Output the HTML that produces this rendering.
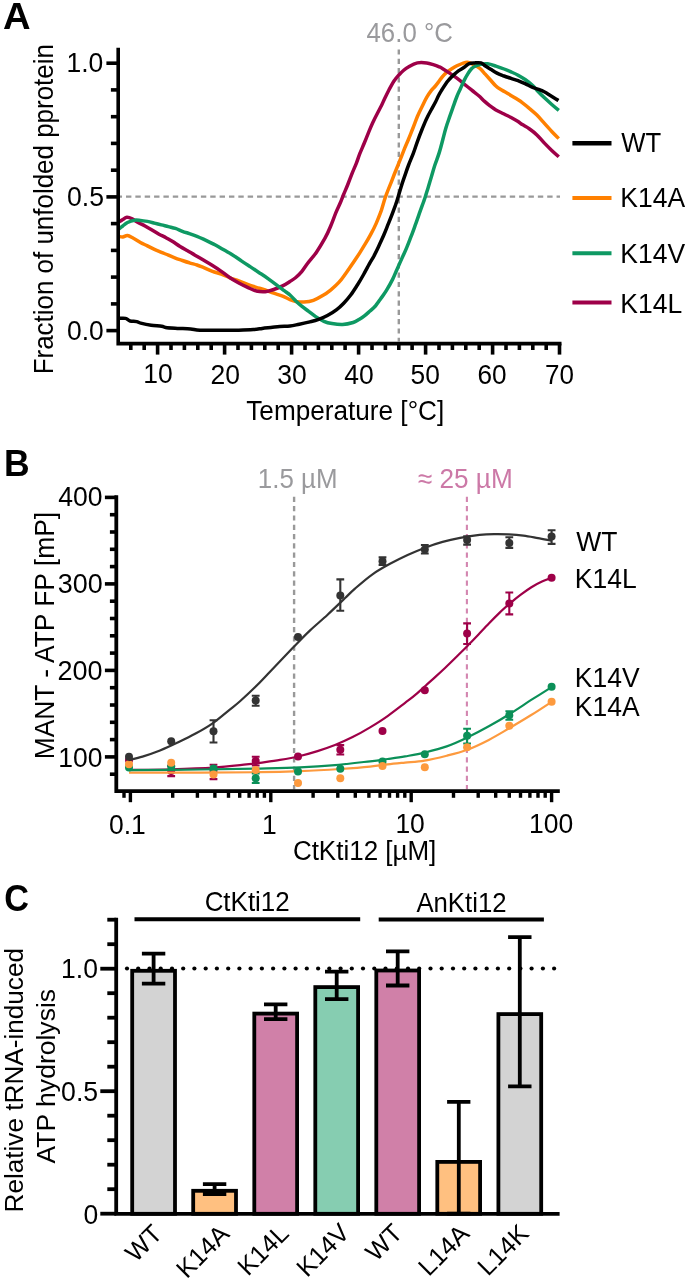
<!DOCTYPE html><html><head><meta charset="utf-8"><style>html,body{margin:0;padding:0;background:#fff;}svg{display:block;will-change:transform;}text{font-family:"Liberation Sans", sans-serif;}</style></head><body>
<svg width="685" height="1286" viewBox="0 0 685 1286">
<rect width="685" height="1286" fill="#fff"/>
<text id="tA" transform="translate(2.99,29.30) scale(1.0336,0.9917)" font-size="37" font-weight="bold">A</text>
<line x1="398.8" y1="49.4" x2="398.8" y2="341.6" stroke="#999" stroke-width="2.4" stroke-dasharray="5.2,4.1"/>
<line x1="116.64" y1="196.6" x2="560" y2="196.6" stroke="#999" stroke-width="2.3" stroke-dasharray="5.4,3.96"/>
<text id="t46" transform="translate(366.53,42.00) scale(0.9735,1.0400)" font-size="26.5" fill="#9a9a9d">46.0 °C</text>
<path d="M118.8,236.5 C119.5,236.6 121.3,237.2 122.8,237.1 C124.2,236.9 125.7,235.4 127.5,235.6 C129.3,235.8 131.2,237.2 133.4,238.3 C135.6,239.4 138.1,241.1 140.4,242.4 C142.7,243.7 145.1,244.7 147.4,245.9 C149.7,247.1 152.1,248.3 154.4,249.4 C156.7,250.5 159.1,251.3 161.4,252.3 C163.7,253.3 166.1,254.2 168.4,255.2 C170.7,256.2 173.1,257.2 175.4,258.1 C177.7,259.0 180.1,259.7 182.4,260.5 C184.7,261.3 187.0,262.1 189.4,262.8 C191.8,263.6 194.6,264.2 197.0,265.0 C199.4,265.8 201.2,266.6 203.8,267.6 C206.4,268.7 209.6,270.2 212.5,271.3 C215.4,272.4 218.4,273.1 221.3,274.2 C224.2,275.3 227.1,276.7 230.0,277.8 C232.9,278.9 235.9,279.7 238.8,280.8 C241.7,281.9 244.7,283.3 247.6,284.4 C250.5,285.5 253.4,286.4 256.3,287.3 C259.2,288.2 262.2,289.0 265.1,290.0 C268.0,291.0 270.9,292.2 273.8,293.2 C276.7,294.2 279.9,295.0 282.6,296.1 C285.3,297.2 287.8,298.7 290.0,299.6 C292.2,300.5 293.5,301.1 295.8,301.5 C298.1,301.9 301.1,302.2 304.0,302.0 C306.9,301.8 310.3,301.4 313.4,300.3 C316.5,299.2 319.8,297.4 322.7,295.6 C325.6,293.9 328.2,292.0 330.9,289.8 C333.6,287.6 336.6,285.0 339.1,282.2 C341.6,279.4 343.6,276.4 346.1,273.0 C348.6,269.6 351.7,264.9 354.0,261.5 C356.3,258.1 357.9,255.7 359.9,252.6 C361.8,249.5 363.8,246.3 365.7,243.2 C367.6,240.1 369.2,237.2 371.0,233.9 C372.8,230.6 374.6,227.1 376.2,223.4 C377.8,219.7 379.5,215.5 380.9,211.7 C382.2,207.9 383.2,203.9 384.3,200.5 C385.4,197.1 386.4,194.5 387.5,191.5 C388.6,188.5 389.8,185.8 391.1,182.6 C392.4,179.3 393.7,175.7 395.2,172.0 C396.7,168.3 398.3,164.3 399.9,160.4 C401.4,156.5 403.1,152.3 404.5,148.7 C405.9,145.1 407.2,142.4 408.6,139.0 C410.0,135.6 411.3,132.2 412.8,128.5 C414.3,124.8 415.9,120.1 417.4,116.5 C418.9,112.9 420.4,109.9 422.0,106.7 C423.6,103.5 425.1,100.1 426.7,97.4 C428.3,94.7 430.0,92.2 431.4,90.4 C432.8,88.6 433.8,87.9 435.0,86.5 C436.2,85.1 437.4,83.5 438.6,81.9 C439.8,80.3 441.0,78.4 442.3,76.8 C443.6,75.2 445.1,73.7 446.7,72.4 C448.3,71.1 450.1,69.9 451.8,68.8 C453.5,67.7 455.1,66.7 456.9,65.8 C458.7,64.9 461.0,63.9 462.7,63.3 C464.4,62.7 465.6,62.2 467.1,62.2 C468.6,62.2 470.0,63.0 471.5,63.6 C473.0,64.2 474.4,64.9 475.9,65.8 C477.4,66.7 478.8,67.4 480.3,68.8 C481.8,70.2 483.4,72.1 485.0,73.9 C486.6,75.7 488.2,77.5 490.0,79.5 C491.8,81.5 493.9,84.2 495.9,86.0 C497.8,87.8 499.6,88.7 501.7,90.0 C503.8,91.3 506.4,92.7 508.7,94.1 C511.0,95.5 513.4,96.8 515.7,98.3 C518.0,99.8 520.2,101.1 522.5,102.8 C524.8,104.5 527.2,106.5 529.6,108.6 C532.0,110.6 534.5,112.7 536.9,115.1 C539.3,117.5 541.8,120.5 544.2,123.2 C546.6,125.9 549.1,128.6 551.5,131.2 C553.9,133.8 557.6,137.3 558.8,138.5" fill="none" stroke="#ff8000" stroke-width="3.5" stroke-linejoin="round"/>
<path d="M118.8,221.9 C119.5,221.5 121.4,220.4 122.8,219.6 C124.2,218.8 125.3,217.4 126.9,217.3 C128.5,217.2 130.3,217.9 132.2,218.8 C134.0,219.7 135.9,221.3 138.0,222.5 C140.1,223.7 142.7,224.7 145.0,226.0 C147.3,227.3 149.7,228.7 152.0,230.1 C154.3,231.5 156.7,232.9 159.0,234.2 C161.3,235.5 163.7,236.4 166.0,237.7 C168.3,239.0 170.8,240.3 173.1,241.8 C175.4,243.3 177.8,245.1 180.1,246.5 C182.4,247.9 184.6,249.1 187.1,250.5 C189.6,251.9 192.2,253.6 195.0,255.2 C197.8,256.8 200.9,258.6 203.8,260.3 C206.7,262.0 209.6,263.6 212.5,265.4 C215.4,267.2 218.4,269.2 221.3,271.3 C224.2,273.4 227.1,275.9 230.0,277.8 C232.9,279.8 235.9,281.4 238.8,283.0 C241.7,284.6 244.7,286.0 247.6,287.3 C250.5,288.6 253.4,290.3 256.3,291.0 C259.2,291.7 262.2,291.9 265.1,291.7 C268.0,291.4 270.9,290.5 273.8,289.5 C276.7,288.5 279.9,287.2 282.6,285.9 C285.3,284.6 287.8,282.9 290.0,281.5 C292.2,280.1 293.9,279.1 295.8,277.5 C297.8,275.9 299.8,274.0 301.7,271.7 C303.6,269.4 305.1,266.7 307.5,263.5 C309.9,260.3 313.4,256.6 316.3,252.4 C319.2,248.2 322.6,242.5 325.0,238.2 C327.4,233.9 328.7,230.8 330.5,226.5 C332.3,222.2 334.3,216.6 335.9,212.7 C337.5,208.8 338.8,206.3 340.1,203.3 C341.4,200.3 342.2,197.8 343.5,194.7 C344.8,191.6 346.4,188.1 347.8,184.5 C349.2,180.9 350.7,177.0 352.1,173.4 C353.5,169.8 355.1,166.4 356.4,163.1 C357.7,159.8 358.5,157.0 359.8,153.7 C361.1,150.4 362.7,146.9 364.1,143.5 C365.5,140.1 366.9,136.6 368.3,133.2 C369.7,129.8 371.0,126.3 372.6,122.9 C374.2,119.5 376.2,115.6 377.7,112.7 C379.2,109.8 380.3,107.9 381.5,105.5 C382.7,103.1 383.4,101.2 384.7,98.5 C386.0,95.8 387.8,92.1 389.3,89.2 C390.9,86.3 392.4,83.3 394.0,81.0 C395.6,78.7 397.1,77.0 398.7,75.2 C400.3,73.5 401.6,72.0 403.4,70.5 C405.1,69.0 406.9,67.7 409.2,66.4 C411.5,65.1 414.5,63.5 417.4,62.9 C420.3,62.3 423.9,62.6 426.7,62.9 C429.5,63.2 432.0,64.3 434.0,64.9 C436.0,65.5 437.2,66.0 438.6,66.6 C440.0,67.2 440.5,67.3 442.3,68.4 C444.1,69.5 447.2,71.5 449.6,73.1 C452.0,74.7 454.5,76.4 456.9,78.2 C459.3,80.0 461.8,82.1 464.2,84.1 C466.6,86.0 469.1,88.0 471.5,89.9 C473.9,91.9 476.6,93.9 478.8,95.8 C481.0,97.7 482.7,99.7 484.6,101.4 C486.5,103.1 488.1,104.4 490.0,105.8 C491.9,107.2 493.5,108.5 495.9,109.9 C498.2,111.3 501.6,112.7 504.1,114.0 C506.6,115.3 508.8,116.2 511.1,117.5 C513.4,118.8 516.2,120.4 518.1,121.6 C520.0,122.8 520.4,123.4 522.3,124.6 C524.2,125.8 527.2,127.3 529.6,129.0 C532.0,130.7 534.5,132.6 536.9,134.9 C539.3,137.2 541.8,140.4 544.2,142.9 C546.6,145.4 549.1,147.9 551.5,150.2 C553.9,152.5 557.6,155.7 558.8,156.8" fill="none" stroke="#9e0048" stroke-width="3.5" stroke-linejoin="round"/>
<path d="M118.2,229.5 C119.0,228.9 121.2,227.2 122.8,226.0 C124.3,224.8 125.5,223.5 127.5,222.5 C129.4,221.5 132.3,220.5 134.5,220.2 C136.7,219.8 138.2,220.2 140.4,220.4 C142.6,220.6 145.1,221.0 147.4,221.4 C149.7,221.8 152.1,222.5 154.4,223.1 C156.7,223.7 159.1,224.3 161.4,224.9 C163.7,225.5 166.1,226.0 168.4,226.6 C170.7,227.2 173.1,227.6 175.4,228.4 C177.7,229.2 180.1,230.4 182.4,231.3 C184.7,232.2 187.0,232.8 189.4,233.6 C191.8,234.4 194.2,235.2 197.0,236.3 C199.8,237.4 202.9,238.9 206.0,240.3 C209.1,241.8 212.4,243.4 215.4,245.0 C218.4,246.6 221.3,248.4 224.2,250.1 C227.1,251.8 230.1,253.4 233.0,255.2 C235.9,257.0 238.8,259.2 241.7,261.1 C244.6,263.1 247.6,265.0 250.5,266.9 C253.4,268.8 256.3,270.8 259.2,272.7 C262.1,274.6 265.1,276.5 268.0,278.6 C270.9,280.7 273.9,282.9 276.8,285.1 C279.7,287.3 283.3,290.1 285.5,291.7 C287.7,293.3 288.3,293.5 290.0,295.0 C291.7,296.5 293.9,299.0 295.8,300.9 C297.8,302.8 299.6,304.4 301.7,306.1 C303.8,307.9 306.4,309.6 308.7,311.4 C311.0,313.1 313.2,315.0 315.7,316.6 C318.2,318.2 321.2,320.1 323.9,321.3 C326.6,322.5 328.9,323.1 332.0,323.6 C335.1,324.1 339.1,324.7 342.6,324.5 C346.1,324.3 350.4,323.3 353.1,322.5 C355.8,321.7 357.1,320.6 359.0,319.5 C360.9,318.4 362.6,317.3 364.4,315.9 C366.2,314.5 368.2,312.6 370.0,311.0 C371.8,309.4 373.6,308.0 375.4,306.0 C377.1,304.0 378.7,301.6 380.5,299.0 C382.3,296.4 384.3,294.0 386.3,290.7 C388.3,287.4 390.8,283.0 392.6,279.4 C394.4,275.8 395.6,272.4 397.2,268.9 C398.8,265.4 400.3,261.9 401.9,258.4 C403.5,254.9 405.1,251.6 406.6,247.9 C408.2,244.2 409.6,240.3 411.2,236.2 C412.8,232.1 414.4,227.5 415.9,223.4 C417.4,219.3 418.5,216.0 420.0,211.7 C421.5,207.4 423.7,201.6 425.0,197.7 C426.3,193.8 426.8,191.9 427.9,188.4 C429.0,184.9 430.2,180.6 431.4,176.7 C432.6,172.8 433.6,168.9 434.9,165.0 C436.2,161.1 437.6,157.8 439.0,153.4 C440.4,149.0 441.9,143.1 443.0,138.8 C444.1,134.6 444.8,131.6 445.9,127.9 C447.0,124.2 448.4,120.4 449.6,116.9 C450.8,113.4 452.0,110.1 453.2,106.7 C454.4,103.3 455.7,99.5 456.9,96.5 C458.1,93.5 459.3,91.2 460.5,88.5 C461.7,85.8 463.0,82.8 464.2,80.4 C465.4,78.0 466.6,75.8 467.8,73.9 C469.0,72.0 470.4,70.0 471.5,68.8 C472.6,67.6 473.1,67.2 474.6,66.5 C476.1,65.8 478.5,64.8 480.7,64.3 C482.9,63.8 485.2,63.5 487.7,63.8 C490.2,64.1 493.2,65.2 495.9,66.1 C498.6,67.0 501.6,68.0 504.1,69.0 C506.6,70.0 508.8,70.9 511.1,71.9 C513.4,72.9 515.8,73.9 518.1,75.2 C520.4,76.5 522.8,77.9 525.1,79.5 C527.4,81.1 530.1,83.2 532.1,85.0 C534.1,86.8 534.9,88.1 536.9,90.2 C538.9,92.3 541.8,95.3 544.2,97.6 C546.6,99.9 549.1,102.1 551.5,104.2 C553.9,106.3 557.6,109.4 558.8,110.4" fill="none" stroke="#0e9963" stroke-width="3.5" stroke-linejoin="round"/>
<path d="M118.5,318.4 C119.7,318.4 123.6,318.0 125.5,318.4 C127.4,318.8 128.2,320.5 130.1,321.0 C132.0,321.5 134.9,321.2 136.7,321.6 C138.5,322.0 138.3,322.5 140.7,323.1 C143.1,323.7 147.7,324.7 151.2,325.2 C154.7,325.7 159.3,325.8 161.7,326.2 C164.1,326.6 163.0,327.0 165.6,327.4 C168.2,327.8 173.2,328.1 177.4,328.4 C181.6,328.6 186.8,328.6 190.6,328.9 C194.4,329.2 194.4,330.0 200.0,330.2 C205.6,330.4 217.7,330.3 224.2,330.3 C230.7,330.3 233.9,330.3 238.8,330.2 C243.7,330.1 249.5,329.9 253.4,329.6 C257.3,329.3 259.3,328.8 262.2,328.4 C265.1,328.0 268.0,327.8 270.9,327.5 C273.8,327.2 276.5,326.8 279.7,326.5 C282.9,326.2 286.7,326.4 290.0,326.0 C293.3,325.6 296.2,324.8 299.3,324.2 C302.4,323.6 305.6,322.9 308.7,322.1 C311.8,321.3 314.9,320.7 318.0,319.6 C321.1,318.5 324.3,317.2 327.4,315.5 C330.5,313.8 334.0,311.7 336.7,309.6 C339.4,307.6 341.4,305.6 343.7,303.2 C346.0,300.8 348.4,298.1 350.7,295.0 C353.0,291.9 355.5,287.9 357.7,284.5 C359.9,281.1 361.7,277.9 363.6,274.5 C365.5,271.1 367.5,267.3 369.2,264.2 C370.9,261.1 372.3,259.0 373.9,256.1 C375.4,253.2 376.9,250.2 378.5,246.7 C380.1,243.2 382.1,238.9 383.8,235.0 C385.5,231.1 386.9,227.3 388.5,223.4 C390.1,219.5 391.7,215.6 393.1,211.7 C394.6,207.8 395.9,204.1 397.2,200.0 C398.5,195.9 399.8,191.1 401.0,187.2 C402.2,183.3 403.2,180.4 404.5,176.7 C405.8,173.0 407.1,168.9 408.6,165.0 C410.1,161.1 411.8,157.3 413.3,153.4 C414.8,149.5 415.9,145.7 417.4,141.7 C418.8,137.7 420.4,133.4 422.0,129.5 C423.6,125.6 425.1,121.7 426.7,118.4 C428.3,115.1 429.9,112.2 431.4,109.5 C432.9,106.8 434.3,104.3 435.5,102.0 C436.7,99.7 437.5,97.6 438.6,95.5 C439.7,93.4 441.1,91.2 442.3,89.2 C443.5,87.2 444.8,85.1 446.0,83.4 C447.2,81.7 448.3,80.5 449.6,79.0 C450.9,77.5 452.5,75.9 454.0,74.6 C455.5,73.2 456.7,72.1 458.4,70.9 C460.1,69.7 462.4,68.5 464.2,67.3 C466.0,66.1 467.6,64.3 469.3,63.6 C471.0,62.9 472.4,63.0 474.4,62.9 C476.3,62.8 479.2,62.4 481.0,62.9 C482.8,63.4 483.7,64.9 485.4,66.0 C487.1,67.1 489.3,68.4 491.2,69.6 C493.1,70.8 494.9,72.0 497.0,73.1 C499.1,74.2 501.8,75.1 504.1,76.0 C506.5,76.9 508.8,77.6 511.1,78.4 C513.4,79.2 515.8,79.8 518.1,80.7 C520.4,81.6 522.8,82.5 525.1,83.6 C527.4,84.7 530.1,86.2 532.1,87.1 C534.1,88.0 534.9,88.0 536.9,88.8 C538.9,89.6 541.8,90.6 544.2,91.8 C546.6,93.0 549.1,94.8 551.5,96.2 C553.9,97.7 557.3,99.8 558.5,100.5" fill="none" stroke="#000000" stroke-width="3.5" stroke-linejoin="round"/>
<path d="M118.2,47.7 V343.6 H561.5" fill="none" stroke="#000" stroke-width="3.6" stroke-linejoin="miter"/>
<line x1="106.4" y1="330.6" x2="118.2" y2="330.6" stroke="#000" stroke-width="3.6"/>
<line x1="110.9" y1="303.9" x2="118.2" y2="303.9" stroke="#000" stroke-width="3.6"/>
<line x1="110.9" y1="277.1" x2="118.2" y2="277.1" stroke="#000" stroke-width="3.6"/>
<line x1="110.9" y1="250.4" x2="118.2" y2="250.4" stroke="#000" stroke-width="3.6"/>
<line x1="110.9" y1="223.6" x2="118.2" y2="223.6" stroke="#000" stroke-width="3.6"/>
<line x1="106.4" y1="196.9" x2="118.2" y2="196.9" stroke="#000" stroke-width="3.6"/>
<line x1="110.9" y1="170.2" x2="118.2" y2="170.2" stroke="#000" stroke-width="3.6"/>
<line x1="110.9" y1="143.4" x2="118.2" y2="143.4" stroke="#000" stroke-width="3.6"/>
<line x1="110.9" y1="116.7" x2="118.2" y2="116.7" stroke="#000" stroke-width="3.6"/>
<line x1="110.9" y1="89.9" x2="118.2" y2="89.9" stroke="#000" stroke-width="3.6"/>
<line x1="106.4" y1="63.2" x2="118.2" y2="63.2" stroke="#000" stroke-width="3.6"/>
<line x1="130.8" y1="343.6" x2="130.8" y2="350.0" stroke="#000" stroke-width="3.6"/>
<line x1="144.2" y1="343.6" x2="144.2" y2="350.0" stroke="#000" stroke-width="3.6"/>
<line x1="157.6" y1="343.6" x2="157.6" y2="354.6" stroke="#000" stroke-width="3.6"/>
<line x1="171.0" y1="343.6" x2="171.0" y2="350.0" stroke="#000" stroke-width="3.6"/>
<line x1="184.4" y1="343.6" x2="184.4" y2="350.0" stroke="#000" stroke-width="3.6"/>
<line x1="197.8" y1="343.6" x2="197.8" y2="350.0" stroke="#000" stroke-width="3.6"/>
<line x1="211.2" y1="343.6" x2="211.2" y2="350.0" stroke="#000" stroke-width="3.6"/>
<line x1="224.6" y1="343.6" x2="224.6" y2="354.6" stroke="#000" stroke-width="3.6"/>
<line x1="238.0" y1="343.6" x2="238.0" y2="350.0" stroke="#000" stroke-width="3.6"/>
<line x1="251.4" y1="343.6" x2="251.4" y2="350.0" stroke="#000" stroke-width="3.6"/>
<line x1="264.8" y1="343.6" x2="264.8" y2="350.0" stroke="#000" stroke-width="3.6"/>
<line x1="278.2" y1="343.6" x2="278.2" y2="350.0" stroke="#000" stroke-width="3.6"/>
<line x1="291.6" y1="343.6" x2="291.6" y2="354.6" stroke="#000" stroke-width="3.6"/>
<line x1="305.0" y1="343.6" x2="305.0" y2="350.0" stroke="#000" stroke-width="3.6"/>
<line x1="318.4" y1="343.6" x2="318.4" y2="350.0" stroke="#000" stroke-width="3.6"/>
<line x1="331.8" y1="343.6" x2="331.8" y2="350.0" stroke="#000" stroke-width="3.6"/>
<line x1="345.1" y1="343.6" x2="345.1" y2="350.0" stroke="#000" stroke-width="3.6"/>
<line x1="358.6" y1="343.6" x2="358.6" y2="354.6" stroke="#000" stroke-width="3.6"/>
<line x1="372.0" y1="343.6" x2="372.0" y2="350.0" stroke="#000" stroke-width="3.6"/>
<line x1="385.4" y1="343.6" x2="385.4" y2="350.0" stroke="#000" stroke-width="3.6"/>
<line x1="398.8" y1="343.6" x2="398.8" y2="350.0" stroke="#000" stroke-width="3.6"/>
<line x1="412.1" y1="343.6" x2="412.1" y2="350.0" stroke="#000" stroke-width="3.6"/>
<line x1="425.6" y1="343.6" x2="425.6" y2="354.6" stroke="#000" stroke-width="3.6"/>
<line x1="439.0" y1="343.6" x2="439.0" y2="350.0" stroke="#000" stroke-width="3.6"/>
<line x1="452.4" y1="343.6" x2="452.4" y2="350.0" stroke="#000" stroke-width="3.6"/>
<line x1="465.8" y1="343.6" x2="465.8" y2="350.0" stroke="#000" stroke-width="3.6"/>
<line x1="479.2" y1="343.6" x2="479.2" y2="350.0" stroke="#000" stroke-width="3.6"/>
<line x1="492.6" y1="343.6" x2="492.6" y2="354.6" stroke="#000" stroke-width="3.6"/>
<line x1="506.0" y1="343.6" x2="506.0" y2="350.0" stroke="#000" stroke-width="3.6"/>
<line x1="519.4" y1="343.6" x2="519.4" y2="350.0" stroke="#000" stroke-width="3.6"/>
<line x1="532.8" y1="343.6" x2="532.8" y2="350.0" stroke="#000" stroke-width="3.6"/>
<line x1="546.2" y1="343.6" x2="546.2" y2="350.0" stroke="#000" stroke-width="3.6"/>
<line x1="559.5" y1="343.6" x2="559.5" y2="354.6" stroke="#000" stroke-width="3.6"/>
<text id="tAy0.0" transform="translate(103.76,339.58) scale(0.9958,1.0400)" font-size="26.5" text-anchor="end">0.0</text>
<text id="tAy0.5" transform="translate(104.01,206.20) scale(1.0052,1.0400)" font-size="26.5" text-anchor="end">0.5</text>
<text id="tAy1.0" transform="translate(103.29,71.60) scale(1.0000,1.0400)" font-size="26.5" text-anchor="end">1.0</text>
<text id="tAx10" transform="translate(157.91,383.48) scale(1.0000,1.0400)" font-size="26.5" text-anchor="middle">10</text>
<text id="tAx20" transform="translate(225.28,384.37) scale(1.0000,1.0400)" font-size="26.5" text-anchor="middle">20</text>
<text id="tAx30" transform="translate(291.91,383.54) scale(1.0000,1.0400)" font-size="26.5" text-anchor="middle">30</text>
<text id="tAx40" transform="translate(358.95,383.50) scale(1.0000,1.0400)" font-size="26.5" text-anchor="middle">40</text>
<text id="tAx50" transform="translate(425.28,383.62) scale(0.9955,1.0400)" font-size="26.5" text-anchor="middle">50</text>
<text id="tAx60" transform="translate(491.99,383.57) scale(0.9893,1.0400)" font-size="26.5" text-anchor="middle">60</text>
<text id="tAx70" transform="translate(559.49,383.50) scale(0.9819,1.0400)" font-size="26.5" text-anchor="middle">70</text>
<text id="tAxl" transform="translate(246.25,419.90) scale(0.9878,1.0400)" font-size="26.5">Temperature [°C]</text>
<text id="tAyl" transform="translate(53.42,374.30) rotate(-90) scale(0.9794,1.0400)" font-size="26.5">Fraction of unfolded pprotein</text>
<line x1="572.4" y1="143.3" x2="611.5" y2="143.3" stroke="#000000" stroke-width="4.4"/>
<text id="tAlegWT" transform="translate(621.33,151.80) scale(0.9696,1.0400)" font-size="26.5">WT</text>
<line x1="572.4" y1="198.1" x2="611.5" y2="198.1" stroke="#ff8000" stroke-width="4"/>
<text id="tAlegK14A" transform="translate(620.36,207.30) scale(1.0000,1.0400)" font-size="26.5">K14A</text>
<line x1="572.4" y1="253.2" x2="611.5" y2="253.2" stroke="#0e9963" stroke-width="4"/>
<text id="tAlegK14V" transform="translate(620.36,263.40) scale(1.0000,1.0400)" font-size="26.5">K14V</text>
<line x1="572.4" y1="302.5" x2="611.5" y2="302.5" stroke="#9e0048" stroke-width="4"/>
<text id="tAlegK14L" transform="translate(620.36,313.40) scale(1.0000,1.0400)" font-size="26.5">K14L</text>
<text id="tB" transform="translate(4.04,476.40) scale(0.9597,0.9750)" font-size="37" font-weight="bold">B</text>
<line x1="294.1" y1="496.8" x2="294.1" y2="789.2" stroke="#999" stroke-width="2.4" stroke-dasharray="5.2,4.1"/>
<line x1="466.9" y1="496.8" x2="466.9" y2="789.2" stroke="#d386b0" stroke-width="2.1" stroke-dasharray="5.2,4.1"/>
<text id="t15" transform="translate(257.82,488.40) scale(0.9780,1.0500)" font-size="26.5" fill="#9a9a9d">1.5 µM</text>
<text id="t25" transform="translate(417.83,488.40) scale(0.9882,1.0500)" font-size="26.5" fill="#cc79a7">≈ 25 µM</text>
<circle cx="129.0" cy="760.0" r="4" fill="#9e0048"/>
<path d="M167.3,766.0 H175.1 M171.2,766.0 V776.1 M167.3,776.1 H175.1" stroke="#9e0048" stroke-width="2.1" fill="none"/>
<circle cx="171.2" cy="771.0" r="4" fill="#9e0048"/>
<path d="M209.6,764.8 H217.4 M213.5,764.8 V779.1 M209.6,779.1 H217.4" stroke="#9e0048" stroke-width="2.1" fill="none"/>
<circle cx="213.5" cy="771.0" r="4" fill="#9e0048"/>
<path d="M251.8,756.8 H259.6 M255.7,756.8 V765.5 M251.8,765.5 H259.6" stroke="#9e0048" stroke-width="2.1" fill="none"/>
<circle cx="255.7" cy="761.0" r="4" fill="#9e0048"/>
<circle cx="298.0" cy="756.4" r="4" fill="#9e0048"/>
<path d="M336.4,745.1 H344.2 M340.3,745.1 V754.5 M336.4,754.5 H344.2" stroke="#9e0048" stroke-width="2.1" fill="none"/>
<circle cx="340.3" cy="749.7" r="4" fill="#9e0048"/>
<circle cx="382.5" cy="731.0" r="4" fill="#9e0048"/>
<circle cx="424.8" cy="690.3" r="4" fill="#9e0048"/>
<path d="M463.2,623.4 H471.0 M467.1,623.4 V644.0 M463.2,644.0 H471.0" stroke="#9e0048" stroke-width="2.1" fill="none"/>
<circle cx="467.1" cy="633.4" r="4" fill="#9e0048"/>
<path d="M505.4,592.5 H513.2 M509.3,592.5 V614.4 M505.4,614.4 H513.2" stroke="#9e0048" stroke-width="2.1" fill="none"/>
<circle cx="509.3" cy="603.5" r="4" fill="#9e0048"/>
<circle cx="551.6" cy="577.7" r="4" fill="#9e0048"/>
<path d="M129.0,769.9 C136.0,769.8 156.9,769.7 171.0,769.3 C185.1,768.9 200.9,768.4 213.5,767.6 C226.1,766.8 238.7,765.2 246.4,764.4 C254.2,763.6 254.4,763.5 260.0,762.8 C265.6,762.0 273.3,761.0 280.0,759.9 C286.7,758.8 293.8,757.5 300.0,756.0 C306.2,754.5 311.7,752.9 317.5,751.1 C323.3,749.3 329.1,747.3 335.0,745.0 C340.9,742.7 346.8,740.0 352.6,737.1 C358.5,734.2 364.3,730.9 370.1,727.4 C375.9,723.9 381.8,720.2 387.6,716.1 C393.4,712.0 400.5,706.4 405.1,702.9 C409.7,699.4 411.6,698.1 415.0,695.2 C418.4,692.3 422.1,688.9 425.6,685.7 C429.1,682.5 432.7,679.4 436.2,676.1 C439.7,672.9 443.3,669.6 446.8,666.2 C450.3,662.9 453.8,659.5 457.3,656.0 C460.8,652.5 464.4,649.0 467.9,645.4 C471.4,641.8 475.0,638.1 478.5,634.4 C482.0,630.7 485.6,626.8 489.1,623.2 C492.6,619.6 496.2,616.0 499.7,612.6 C503.2,609.2 506.8,606.1 510.3,603.1 C513.8,600.1 517.3,597.2 520.8,594.6 C524.3,592.0 527.9,589.4 531.4,587.2 C534.9,585.0 538.5,583.1 542.0,581.5 C545.5,579.9 550.5,578.3 552.2,577.7" fill="none" stroke="#9e0048" stroke-width="2.2"/>
<path d="M129.0,772.7 C140.8,772.7 178.2,772.7 200.0,772.6 C221.8,772.5 243.3,772.4 260.0,772.2 C276.7,772.0 286.6,771.7 300.0,771.2 C313.4,770.7 328.4,769.8 340.1,769.0 C351.8,768.2 362.1,767.4 370.0,766.6 C377.9,765.8 381.8,765.1 387.6,764.4 C393.4,763.7 398.9,763.2 405.0,762.6 C411.1,762.0 417.6,761.8 424.5,760.6 C431.4,759.5 439.6,757.5 446.7,755.7 C453.8,753.9 460.3,752.3 467.3,749.7 C474.3,747.1 481.8,743.5 488.8,739.9 C495.8,736.3 502.3,732.3 509.3,728.2 C516.3,724.1 523.7,719.7 530.8,715.3 C537.9,710.9 548.5,703.9 552.0,701.6" fill="none" stroke="#fd9a3e" stroke-width="2.2"/>
<path d="M129.0,770.1 C140.8,770.0 178.2,769.8 200.0,769.5 C221.8,769.2 243.3,769.0 260.0,768.6 C276.7,768.2 287.5,768.0 300.0,767.4 C312.5,766.8 323.3,766.1 335.0,765.1 C346.7,764.1 361.3,762.3 370.1,761.3 C378.9,760.3 381.8,759.8 387.6,759.0 C393.4,758.2 399.0,757.5 405.1,756.4 C411.2,755.3 417.6,754.3 424.5,752.6 C431.4,750.9 439.6,748.9 446.7,746.4 C453.8,743.9 460.3,740.9 467.3,737.5 C474.3,734.1 481.8,730.2 488.8,726.3 C495.8,722.4 502.3,718.6 509.3,714.2 C516.3,709.9 523.7,704.8 530.8,700.2 C537.9,695.7 548.5,689.1 552.0,686.9" fill="none" stroke="#0b9058" stroke-width="2.2"/>
<circle cx="129.0" cy="767.6" r="4" fill="#0b9058"/>
<circle cx="171.2" cy="766.4" r="4" fill="#0b9058"/>
<circle cx="213.5" cy="768.4" r="4" fill="#0b9058"/>
<path d="M251.8,773.5 H259.6 M255.7,773.5 V783.0 M251.8,783.0 H259.6" stroke="#0b9058" stroke-width="2.1" fill="none"/>
<circle cx="255.7" cy="778.3" r="4" fill="#0b9058"/>
<circle cx="298.0" cy="771.4" r="4" fill="#0b9058"/>
<circle cx="340.3" cy="768.8" r="4" fill="#0b9058"/>
<circle cx="382.5" cy="761.6" r="4" fill="#0b9058"/>
<circle cx="424.8" cy="754.3" r="4" fill="#0b9058"/>
<path d="M463.2,728.7 H471.0 M467.1,728.7 V743.5 M463.2,743.5 H471.0" stroke="#0b9058" stroke-width="2.1" fill="none"/>
<circle cx="467.1" cy="735.7" r="4" fill="#0b9058"/>
<path d="M505.4,711.2 H513.2 M509.3,711.2 V719.7 M505.4,719.7 H513.2" stroke="#0b9058" stroke-width="2.1" fill="none"/>
<circle cx="509.3" cy="715.3" r="4" fill="#0b9058"/>
<circle cx="551.6" cy="686.8" r="4" fill="#0b9058"/>
<circle cx="129.0" cy="764.3" r="4" fill="#fd9a3e"/>
<circle cx="171.2" cy="762.8" r="4" fill="#fd9a3e"/>
<circle cx="213.5" cy="774.5" r="4" fill="#fd9a3e"/>
<circle cx="255.7" cy="769.9" r="4" fill="#fd9a3e"/>
<circle cx="298.0" cy="783.1" r="4" fill="#fd9a3e"/>
<circle cx="340.3" cy="778.3" r="4" fill="#fd9a3e"/>
<circle cx="382.5" cy="766.0" r="4" fill="#fd9a3e"/>
<circle cx="424.8" cy="767.2" r="4" fill="#fd9a3e"/>
<circle cx="467.1" cy="747.3" r="4" fill="#fd9a3e"/>
<circle cx="509.3" cy="725.8" r="4" fill="#fd9a3e"/>
<circle cx="551.6" cy="701.8" r="4" fill="#fd9a3e"/>
<path d="M128.5,760.1 C130.8,759.5 137.2,758.2 142.5,756.6 C147.8,755.0 154.2,752.8 160.0,750.5 C165.8,748.2 171.8,745.4 177.6,742.6 C183.4,739.8 189.3,737.0 195.1,733.8 C200.9,730.6 206.8,727.4 212.6,723.3 C218.4,719.2 225.5,713.0 230.1,709.3 C234.7,705.6 235.4,705.3 240.0,701.2 C244.6,697.1 251.7,690.6 257.5,684.8 C263.3,679.0 269.1,672.5 275.0,666.4 C280.9,660.3 286.8,654.0 292.6,648.0 C298.5,642.0 304.3,635.9 310.1,630.4 C315.9,624.9 321.8,620.1 327.6,614.7 C333.4,609.3 340.5,602.4 345.1,598.0 C349.7,593.6 350.4,592.6 355.0,588.6 C359.6,584.6 366.7,578.4 372.5,574.3 C378.3,570.2 384.1,567.0 390.0,563.8 C395.9,560.6 401.8,557.7 407.6,555.0 C413.5,552.3 419.3,549.9 425.1,547.7 C430.9,545.5 436.8,543.5 442.6,541.9 C448.4,540.3 453.9,539.1 460.1,537.9 C466.3,536.7 473.9,535.5 479.6,534.9 C485.3,534.3 489.3,534.2 494.2,534.1 C499.1,534.0 503.9,534.1 508.8,534.4 C513.7,534.7 518.5,535.1 523.4,535.7 C528.3,536.3 533.3,537.3 538.0,538.1 C542.7,538.9 549.3,540.2 551.6,540.6" fill="none" stroke="#333333" stroke-width="2.2"/>
<circle cx="129.0" cy="756.7" r="4" fill="#333333"/>
<circle cx="171.2" cy="741.2" r="4" fill="#333333"/>
<path d="M209.6,720.3 H217.4 M213.5,720.3 V742.5 M209.6,742.5 H217.4" stroke="#333333" stroke-width="2.1" fill="none"/>
<circle cx="213.5" cy="731.2" r="4" fill="#333333"/>
<path d="M251.8,695.7 H259.6 M255.7,695.7 V705.7 M251.8,705.7 H259.6" stroke="#333333" stroke-width="2.1" fill="none"/>
<circle cx="255.7" cy="700.5" r="4" fill="#333333"/>
<circle cx="298.0" cy="637.1" r="4" fill="#333333"/>
<path d="M336.4,579.4 H344.2 M340.3,579.4 V610.7 M336.4,610.7 H344.2" stroke="#333333" stroke-width="2.1" fill="none"/>
<circle cx="340.3" cy="595.4" r="4" fill="#333333"/>
<path d="M378.6,557.4 H386.4 M382.5,557.4 V564.9 M378.6,564.9 H386.4" stroke="#333333" stroke-width="2.1" fill="none"/>
<circle cx="382.5" cy="561.2" r="4" fill="#333333"/>
<path d="M420.9,545.0 H428.7 M424.8,545.0 V553.5 M420.9,553.5 H428.7" stroke="#333333" stroke-width="2.1" fill="none"/>
<circle cx="424.8" cy="549.4" r="4" fill="#333333"/>
<path d="M463.2,536.3 H471.0 M467.1,536.3 V544.6 M463.2,544.6 H471.0" stroke="#333333" stroke-width="2.1" fill="none"/>
<circle cx="467.1" cy="540.1" r="4" fill="#333333"/>
<path d="M505.4,537.2 H513.2 M509.3,537.2 V547.9 M505.4,547.9 H513.2" stroke="#333333" stroke-width="2.1" fill="none"/>
<circle cx="509.3" cy="543.0" r="4" fill="#333333"/>
<path d="M547.7,530.2 H555.5 M551.6,530.2 V543.9 M547.7,543.9 H555.5" stroke="#333333" stroke-width="2.1" fill="none"/>
<circle cx="551.6" cy="536.6" r="4" fill="#333333"/>
<path d="M116.3,495.2 V791.2 H559.8" fill="none" stroke="#000" stroke-width="3.8"/>
<line x1="109.9" y1="774.2" x2="116.3" y2="774.2" stroke="#000" stroke-width="3.6"/>
<line x1="104.9" y1="756.9" x2="116.3" y2="756.9" stroke="#000" stroke-width="3.6"/>
<line x1="109.9" y1="739.6" x2="116.3" y2="739.6" stroke="#000" stroke-width="3.6"/>
<line x1="109.9" y1="722.3" x2="116.3" y2="722.3" stroke="#000" stroke-width="3.6"/>
<line x1="109.9" y1="705.0" x2="116.3" y2="705.0" stroke="#000" stroke-width="3.6"/>
<line x1="109.9" y1="687.7" x2="116.3" y2="687.7" stroke="#000" stroke-width="3.6"/>
<line x1="104.9" y1="670.4" x2="116.3" y2="670.4" stroke="#000" stroke-width="3.6"/>
<line x1="109.9" y1="653.1" x2="116.3" y2="653.1" stroke="#000" stroke-width="3.6"/>
<line x1="109.9" y1="635.8" x2="116.3" y2="635.8" stroke="#000" stroke-width="3.6"/>
<line x1="109.9" y1="618.5" x2="116.3" y2="618.5" stroke="#000" stroke-width="3.6"/>
<line x1="109.9" y1="601.2" x2="116.3" y2="601.2" stroke="#000" stroke-width="3.6"/>
<line x1="104.9" y1="583.9" x2="116.3" y2="583.9" stroke="#000" stroke-width="3.6"/>
<line x1="109.9" y1="566.6" x2="116.3" y2="566.6" stroke="#000" stroke-width="3.6"/>
<line x1="109.9" y1="549.3" x2="116.3" y2="549.3" stroke="#000" stroke-width="3.6"/>
<line x1="109.9" y1="532.0" x2="116.3" y2="532.0" stroke="#000" stroke-width="3.6"/>
<line x1="109.9" y1="514.7" x2="116.3" y2="514.7" stroke="#000" stroke-width="3.6"/>
<line x1="104.9" y1="497.4" x2="116.3" y2="497.4" stroke="#000" stroke-width="3.6"/>
<line x1="124.0" y1="791.2" x2="124.0" y2="797.8" stroke="#000" stroke-width="3.4"/>
<line x1="130.4" y1="791.2" x2="130.4" y2="802.2" stroke="#000" stroke-width="3.4"/>
<line x1="172.7" y1="791.2" x2="172.7" y2="797.8" stroke="#000" stroke-width="3.4"/>
<line x1="197.4" y1="791.2" x2="197.4" y2="797.8" stroke="#000" stroke-width="3.4"/>
<line x1="214.9" y1="791.2" x2="214.9" y2="797.8" stroke="#000" stroke-width="3.4"/>
<line x1="228.5" y1="791.2" x2="228.5" y2="797.8" stroke="#000" stroke-width="3.4"/>
<line x1="239.7" y1="791.2" x2="239.7" y2="797.8" stroke="#000" stroke-width="3.4"/>
<line x1="249.1" y1="791.2" x2="249.1" y2="797.8" stroke="#000" stroke-width="3.4"/>
<line x1="257.2" y1="791.2" x2="257.2" y2="797.8" stroke="#000" stroke-width="3.4"/>
<line x1="264.4" y1="791.2" x2="264.4" y2="797.8" stroke="#000" stroke-width="3.4"/>
<line x1="270.8" y1="791.2" x2="270.8" y2="802.2" stroke="#000" stroke-width="3.4"/>
<line x1="313.1" y1="791.2" x2="313.1" y2="797.8" stroke="#000" stroke-width="3.4"/>
<line x1="337.8" y1="791.2" x2="337.8" y2="797.8" stroke="#000" stroke-width="3.4"/>
<line x1="355.3" y1="791.2" x2="355.3" y2="797.8" stroke="#000" stroke-width="3.4"/>
<line x1="368.9" y1="791.2" x2="368.9" y2="797.8" stroke="#000" stroke-width="3.4"/>
<line x1="380.1" y1="791.2" x2="380.1" y2="797.8" stroke="#000" stroke-width="3.4"/>
<line x1="389.5" y1="791.2" x2="389.5" y2="797.8" stroke="#000" stroke-width="3.4"/>
<line x1="397.6" y1="791.2" x2="397.6" y2="797.8" stroke="#000" stroke-width="3.4"/>
<line x1="404.8" y1="791.2" x2="404.8" y2="797.8" stroke="#000" stroke-width="3.4"/>
<line x1="411.2" y1="791.2" x2="411.2" y2="802.2" stroke="#000" stroke-width="3.4"/>
<line x1="453.5" y1="791.2" x2="453.5" y2="797.8" stroke="#000" stroke-width="3.4"/>
<line x1="478.2" y1="791.2" x2="478.2" y2="797.8" stroke="#000" stroke-width="3.4"/>
<line x1="495.7" y1="791.2" x2="495.7" y2="797.8" stroke="#000" stroke-width="3.4"/>
<line x1="509.3" y1="791.2" x2="509.3" y2="797.8" stroke="#000" stroke-width="3.4"/>
<line x1="520.5" y1="791.2" x2="520.5" y2="797.8" stroke="#000" stroke-width="3.4"/>
<line x1="529.9" y1="791.2" x2="529.9" y2="797.8" stroke="#000" stroke-width="3.4"/>
<line x1="538.0" y1="791.2" x2="538.0" y2="797.8" stroke="#000" stroke-width="3.4"/>
<line x1="545.2" y1="791.2" x2="545.2" y2="797.8" stroke="#000" stroke-width="3.4"/>
<line x1="551.6" y1="791.2" x2="551.6" y2="802.2" stroke="#000" stroke-width="3.4"/>
<text id="tBy100" transform="translate(102.48,766.90) scale(1.0000,1.0400)" font-size="26.5" text-anchor="end">100</text>
<text id="tBy200" transform="translate(102.51,680.25) scale(1.0203,1.0400)" font-size="26.5" text-anchor="end">200</text>
<text id="tBy300" transform="translate(102.70,593.30) scale(1.0164,1.0400)" font-size="26.5" text-anchor="end">300</text>
<text id="tBy400" transform="translate(102.60,506.20) scale(1.0020,1.0400)" font-size="26.5" text-anchor="end">400</text>
<text id="tBx0.1" transform="translate(127.39,833.60) scale(1.0000,1.0400)" font-size="26.5" text-anchor="middle">0.1</text>
<text id="tBx1" transform="translate(269.47,833.76) scale(1.0000,1.0400)" font-size="26.5" text-anchor="middle">1</text>
<text id="tBx10" transform="translate(410.13,832.80) scale(1.0000,1.0400)" font-size="26.5" text-anchor="middle">10</text>
<text id="tBx100" transform="translate(551.12,833.40) scale(1.0000,1.0400)" font-size="26.5" text-anchor="middle">100</text>
<text id="tBxl" transform="translate(292.90,860.20) scale(0.9808,1.0500)" font-size="26.5">CtKti12 [µM]</text>
<text id="tByl" transform="translate(53.92,759.35) rotate(-90) scale(0.9966,1.0400)" font-size="26.5">MANT - ATP FP [mP]</text>
<text id="tBlegWT" transform="translate(576.16,550.60) scale(1.0000,1.0400)" font-size="26.5">WT</text>
<text id="tBlegK14L" transform="translate(574.80,588.00) scale(1.0000,1.0400)" font-size="26.5">K14L</text>
<text id="tBlegK14V" transform="translate(574.80,687.40) scale(1.0000,1.0400)" font-size="26.5">K14V</text>
<text id="tBlegK14A" transform="translate(574.80,715.60) scale(1.0000,1.0400)" font-size="26.5">K14A</text>
<text id="tC" transform="translate(4.29,910.50) scale(0.9250,1.0090)" font-size="37" font-weight="bold">C</text>
<circle cx="127.0" cy="968.5" r="2.1" fill="#000"/>
<circle cx="138.2" cy="968.5" r="2.1" fill="#000"/>
<circle cx="149.5" cy="968.5" r="2.1" fill="#000"/>
<circle cx="160.7" cy="968.5" r="2.1" fill="#000"/>
<circle cx="172.0" cy="968.5" r="2.1" fill="#000"/>
<circle cx="183.2" cy="968.5" r="2.1" fill="#000"/>
<circle cx="194.4" cy="968.5" r="2.1" fill="#000"/>
<circle cx="205.7" cy="968.5" r="2.1" fill="#000"/>
<circle cx="216.9" cy="968.5" r="2.1" fill="#000"/>
<circle cx="228.2" cy="968.5" r="2.1" fill="#000"/>
<circle cx="239.4" cy="968.5" r="2.1" fill="#000"/>
<circle cx="250.6" cy="968.5" r="2.1" fill="#000"/>
<circle cx="261.9" cy="968.5" r="2.1" fill="#000"/>
<circle cx="273.1" cy="968.5" r="2.1" fill="#000"/>
<circle cx="284.4" cy="968.5" r="2.1" fill="#000"/>
<circle cx="295.6" cy="968.5" r="2.1" fill="#000"/>
<circle cx="306.8" cy="968.5" r="2.1" fill="#000"/>
<circle cx="318.1" cy="968.5" r="2.1" fill="#000"/>
<circle cx="329.3" cy="968.5" r="2.1" fill="#000"/>
<circle cx="340.6" cy="968.5" r="2.1" fill="#000"/>
<circle cx="351.8" cy="968.5" r="2.1" fill="#000"/>
<circle cx="363.0" cy="968.5" r="2.1" fill="#000"/>
<circle cx="374.3" cy="968.5" r="2.1" fill="#000"/>
<circle cx="385.5" cy="968.5" r="2.1" fill="#000"/>
<circle cx="396.8" cy="968.5" r="2.1" fill="#000"/>
<circle cx="408.0" cy="968.5" r="2.1" fill="#000"/>
<circle cx="419.2" cy="968.5" r="2.1" fill="#000"/>
<circle cx="430.5" cy="968.5" r="2.1" fill="#000"/>
<circle cx="441.7" cy="968.5" r="2.1" fill="#000"/>
<circle cx="453.0" cy="968.5" r="2.1" fill="#000"/>
<circle cx="464.2" cy="968.5" r="2.1" fill="#000"/>
<circle cx="475.4" cy="968.5" r="2.1" fill="#000"/>
<circle cx="486.7" cy="968.5" r="2.1" fill="#000"/>
<circle cx="497.9" cy="968.5" r="2.1" fill="#000"/>
<circle cx="509.2" cy="968.5" r="2.1" fill="#000"/>
<circle cx="520.4" cy="968.5" r="2.1" fill="#000"/>
<circle cx="531.6" cy="968.5" r="2.1" fill="#000"/>
<circle cx="542.9" cy="968.5" r="2.1" fill="#000"/>
<circle cx="554.1" cy="968.5" r="2.1" fill="#000"/>
<rect x="132.2" y="970.8" width="42.8" height="243.0" fill="#d3d3d3" stroke="#000" stroke-width="3.8"/>
<path d="M141.9,953.7 H165.3 M153.6,953.7 V983.7 M141.9,983.7 H165.3" stroke="#000" stroke-width="3.8" fill="none"/>
<text id="tCx0" transform="translate(163.80,1235.20) rotate(-45)" font-size="25.5" text-anchor="end">WT</text>
<rect x="193.2" y="1190.8" width="42.8" height="23.0" fill="#ffc080" stroke="#000" stroke-width="3.8"/>
<path d="M202.9,1184.1 H226.3 M214.6,1184.1 V1194.0 M202.9,1194.0 H226.3" stroke="#000" stroke-width="3.8" fill="none"/>
<text id="tCx1" transform="translate(230.80,1235.40) rotate(-45)" font-size="25.5" text-anchor="end">K14A</text>
<rect x="254.3" y="1013.6" width="42.8" height="200.2" fill="#d080a8" stroke="#000" stroke-width="3.8"/>
<path d="M264.0,1004.3 H287.4 M275.7,1004.3 V1019.2 M264.0,1019.2 H287.4" stroke="#000" stroke-width="3.8" fill="none"/>
<text id="tCx2" transform="translate(290.20,1235.00) rotate(-45)" font-size="25.5" text-anchor="end">K14L</text>
<rect x="315.3" y="987.1" width="42.8" height="226.7" fill="#86cdb1" stroke="#000" stroke-width="3.8"/>
<path d="M325.0,971.6 H348.4 M336.7,971.6 V999.2 M325.0,999.2 H348.4" stroke="#000" stroke-width="3.8" fill="none"/>
<text id="tCx3" transform="translate(351.10,1234.20) rotate(-45)" font-size="25.5" text-anchor="end">K14V</text>
<rect x="376.3" y="970.5" width="42.8" height="243.3" fill="#d080a8" stroke="#000" stroke-width="3.8"/>
<path d="M386.0,951.3 H409.4 M397.7,951.3 V985.5 M386.0,985.5 H409.4" stroke="#000" stroke-width="3.8" fill="none"/>
<text id="tCx4" transform="translate(404.10,1234.40) rotate(-45)" font-size="25.5" text-anchor="end">WT</text>
<rect x="437.3" y="1161.9" width="42.8" height="51.9" fill="#ffc080" stroke="#000" stroke-width="3.8"/>
<path d="M447.1,1101.8 H470.4 M458.8,1101.8 V1213.7 M447.1,1213.7 H470.4" stroke="#000" stroke-width="3.8" fill="none"/>
<text id="tCx5" transform="translate(470.80,1235.20) rotate(-45)" font-size="25.5" text-anchor="end">L14A</text>
<rect x="498.4" y="1014.1" width="42.8" height="199.7" fill="#d3d3d3" stroke="#000" stroke-width="3.8"/>
<path d="M508.1,937.2 H531.5 M519.8,937.2 V1086.4 M508.1,1086.4 H531.5" stroke="#000" stroke-width="3.8" fill="none"/>
<text id="tCx6" transform="translate(530.20,1235.00) rotate(-45)" font-size="25.5" text-anchor="end">L14K</text>
<path d="M116.2,917.8 V1213.8 H559.6" fill="none" stroke="#000" stroke-width="3.8"/>
<line x1="100.3" y1="1213.7" x2="116.2" y2="1213.7" stroke="#000" stroke-width="3.8"/>
<line x1="107.3" y1="1189.2" x2="116.2" y2="1189.2" stroke="#000" stroke-width="3.8"/>
<line x1="107.3" y1="1164.7" x2="116.2" y2="1164.7" stroke="#000" stroke-width="3.8"/>
<line x1="107.3" y1="1140.2" x2="116.2" y2="1140.2" stroke="#000" stroke-width="3.8"/>
<line x1="107.3" y1="1115.7" x2="116.2" y2="1115.7" stroke="#000" stroke-width="3.8"/>
<line x1="100.3" y1="1091.2" x2="116.2" y2="1091.2" stroke="#000" stroke-width="3.8"/>
<line x1="107.3" y1="1066.7" x2="116.2" y2="1066.7" stroke="#000" stroke-width="3.8"/>
<line x1="107.3" y1="1042.2" x2="116.2" y2="1042.2" stroke="#000" stroke-width="3.8"/>
<line x1="107.3" y1="1017.7" x2="116.2" y2="1017.7" stroke="#000" stroke-width="3.8"/>
<line x1="107.3" y1="993.2" x2="116.2" y2="993.2" stroke="#000" stroke-width="3.8"/>
<line x1="100.3" y1="968.7" x2="116.2" y2="968.7" stroke="#000" stroke-width="3.8"/>
<line x1="107.3" y1="944.2" x2="116.2" y2="944.2" stroke="#000" stroke-width="3.8"/>
<line x1="107.3" y1="919.7" x2="116.2" y2="919.7" stroke="#000" stroke-width="3.8"/>
<text id="tCy0" transform="translate(98.13,1223.82) scale(1.0000,1.0400)" font-size="26.5" text-anchor="end">0</text>
<text id="tCy0.5" transform="translate(98.14,1100.70) scale(1.0064,1.0400)" font-size="26.5" text-anchor="end">0.5</text>
<text id="tCy1.0" transform="translate(97.89,978.38) scale(1.0000,1.0400)" font-size="26.5" text-anchor="end">1.0</text>
<line x1="134.5" y1="919.3" x2="360.2" y2="919.3" stroke="#000" stroke-width="4"/>
<line x1="378.7" y1="919.4" x2="543.9" y2="919.4" stroke="#000" stroke-width="4"/>
<text id="tCg1" transform="translate(204.63,911.37) scale(0.9796,1.0400)" font-size="26.5">CtKti12</text>
<text id="tCg2" transform="translate(416.38,911.69) scale(0.9714,1.0400)" font-size="26.5">AnKti12</text>
<text id="tCyl1" transform="translate(22.90,1212.46) rotate(-90) scale(0.9869,0.9500)" font-size="26.5">Relative tRNA-induced</text>
<text id="tCyl2" transform="translate(54.52,1163.40) rotate(-90) scale(1.0011,0.9500)" font-size="26.5">ATP hydrolysis</text>
</svg></body></html>
